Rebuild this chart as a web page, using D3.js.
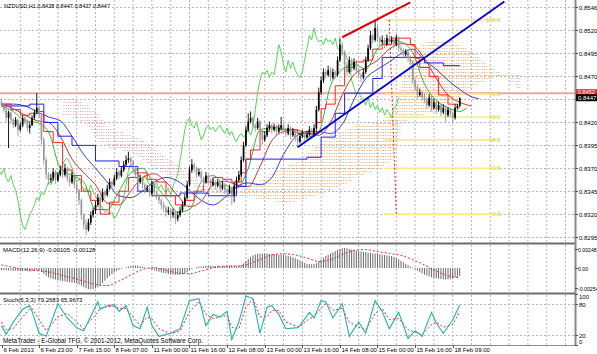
<!DOCTYPE html>
<html><head><meta charset="utf-8">
<script src="https://cdn.jsdelivr.net/npm/d3@7"></script>
<style>body{margin:0;background:#fff}svg{display:block}text{font-family:"Liberation Sans",Arial,sans-serif}</style>
</head><body><svg id="c" width="597" height="354"></svg>
<script>
// ---------------- DATA ----------------
const titleText = "NZDUSD,H1  0.8438 0.8447 0.8437 0.8447";
const macdTitle = "MACD(12,26,9) -0.00105 -0.00128";
const stochTitle = "Stoch(5,3,3) 79.2683 65.9673";
const copyrightText = "MetaTrader - E-Global TFG, \u00a9 2001-2012, MetaQuotes Software Corp.";
const timeLabels = ["6 Feb 2013","6 Feb 23:00","7 Feb 15:00","8 Feb 07:00","11 Feb 00:00","11 Feb 16:00","12 Feb 08:00","13 Feb 00:00","13 Feb 16:00","14 Feb 08:00","15 Feb 00:00","15 Feb 16:00","18 Feb 09:00"];
const timeLabelBars = [0,16,32,48,64,80,96,112,128,144,160,176,192];
const priceTickValues = [0.8546,0.85209,0.84958,0.84707,0.84456,0.84205,0.83954,0.83703,0.83452,0.83201,0.8295];
const priceTickLabels = ["0.8546","0.8520","0.8495","0.8470","","0.8420","0.8395","0.8370","0.8345","0.8320","0.8295"];
const macdTickValues = [0.00248,0,-0.00254];
const macdTickLabels = ["0.00248","0.00","-0.00254"];
const stochTickValues = [100,80,20,0];
const stochLevels = [80,20];

// OHLC in pips (price * 10000), one per hourly bar
const candles = [
[8443,8446,8437,8439],[8439,8441,8431,8434],[8434,8436,8420,8425],[8425,8433,8392,8431],[8431,8432,8418,8423],
[8423,8425,8414,8417],[8417,8426,8415,8423],[8423,8424,8405,8412],[8412,8420,8410,8417],[8417,8428,8415,8425],
[8425,8427,8418,8421],[8421,8423,8410,8414],[8414,8420,8408,8417],[8417,8428,8416,8425],[8425,8434,8423,8431],
[8431,8452,8429,8436],[8436,8438,8424,8428],[8428,8430,8396,8401],[8401,8404,8374,8379],[8379,8382,8358,8363],
[8363,8366,8352,8357],[8357,8364,8354,8359],[8359,8370,8356,8366],[8366,8368,8353,8357],[8357,8366,8355,8363],
[8363,8373,8361,8368],[8368,8370,8359,8363],[8363,8375,8361,8370],[8370,8372,8355,8359],[8359,8362,8350,8355],
[8355,8366,8353,8362],[8362,8364,8348,8352],[8352,8355,8342,8346],[8346,8348,8330,8335],[8335,8337,8314,8319],
[8319,8321,8303,8308],[8308,8314,8297,8303],[8303,8315,8301,8311],[8311,8323,8308,8319],[8319,8327,8316,8324],
[8324,8334,8320,8330],[8330,8342,8328,8338],[8338,8340,8330,8335],[8335,8348,8333,8344],[8344,8346,8337,8341],
[8341,8352,8339,8348],[8348,8359,8346,8355],[8355,8357,8348,8352],[8352,8363,8350,8359],[8359,8370,8357,8366],
[8366,8368,8358,8362],[8362,8372,8360,8368],[8368,8378,8366,8374],[8374,8384,8372,8379],[8379,8388,8376,8381],
[8381,8383,8373,8377],[8377,8379,8366,8370],[8370,8372,8359,8363],[8363,8365,8351,8355],[8355,8363,8353,8359],
[8359,8361,8348,8352],[8352,8354,8342,8346],[8346,8352,8344,8348],[8348,8350,8339,8343],[8343,8356,8341,8352],
[8352,8354,8340,8344],[8344,8346,8336,8340],[8340,8342,8331,8335],[8335,8337,8325,8330],[8330,8333,8322,8327],
[8327,8329,8317,8322],[8322,8328,8319,8324],[8324,8326,8314,8319],[8319,8326,8316,8322],[8322,8324,8309,8315],
[8315,8323,8312,8319],[8319,8328,8317,8324],[8324,8334,8322,8330],[8330,8342,8328,8338],[8338,8356,8336,8352],
[8352,8372,8350,8368],[8368,8380,8365,8374],[8374,8376,8366,8370],[8370,8372,8359,8363],[8363,8370,8361,8366],
[8366,8368,8355,8359],[8359,8361,8351,8355],[8355,8366,8353,8362],[8362,8364,8353,8357],[8357,8359,8348,8352],
[8352,8359,8350,8355],[8355,8357,8347,8351],[8351,8358,8349,8354],[8354,8356,8344,8348],[8348,8356,8346,8352],
[8352,8354,8342,8346],[8346,8348,8338,8344],[8344,8352,8342,8348],[8348,8350,8330,8341],[8341,8355,8333,8351],
[8351,8361,8349,8357],[8357,8367,8355,8363],[8363,8383,8361,8379],[8379,8399,8377,8395],[8395,8416,8393,8412],
[8412,8430,8410,8421],[8421,8432,8419,8425],[8425,8427,8413,8417],[8417,8419,8410,8414],[8414,8425,8412,8421],
[8421,8423,8406,8410],[8410,8412,8396,8401],[8401,8410,8399,8406],[8406,8418,8404,8414],[8414,8421,8412,8417],
[8417,8419,8408,8412],[8412,8419,8410,8415],[8415,8417,8406,8410],[8410,8418,8408,8414],[8414,8426,8412,8417],
[8417,8419,8408,8412],[8412,8414,8404,8408],[8408,8418,8406,8414],[8414,8416,8402,8406],[8406,8414,8404,8410],
[8410,8412,8399,8403],[8403,8405,8393,8399],[8399,8409,8397,8405],[8405,8412,8403,8408],[8408,8410,8400,8404],
[8404,8411,8402,8407],[8407,8416,8405,8412],[8412,8414,8402,8406],[8406,8418,8404,8414],[8414,8438,8412,8434],
[8434,8458,8432,8453],[8453,8470,8450,8466],[8466,8479,8463,8475],[8475,8478,8468,8472],[8472,8482,8470,8477],
[8477,8480,8465,8469],[8469,8479,8467,8475],[8475,8477,8468,8472],[8472,8492,8470,8488],[8488,8512,8486,8505],
[8505,8508,8493,8497],[8497,8499,8479,8483],[8483,8486,8471,8475],[8475,8492,8473,8488],[8488,8490,8475,8479],
[8479,8490,8477,8486],[8486,8488,8473,8477],[8477,8480,8468,8472],[8472,8474,8464,8469],[8469,8479,8467,8475],
[8475,8492,8473,8488],[8488,8505,8486,8501],[8501,8520,8499,8515],[8515,8518,8506,8510],[8510,8532,8508,8523],
[8523,8526,8508,8512],[8512,8514,8503,8508],[8508,8515,8506,8510],[8510,8512,8501,8505],[8505,8516,8503,8512],
[8512,8514,8504,8508],[8508,8514,8506,8510],[8510,8512,8501,8505],[8505,8516,8503,8512],[8512,8514,8497,8501],
[8501,8504,8495,8499],[8499,8501,8490,8494],[8494,8500,8492,8497],[8497,8499,8486,8490],[8490,8493,8482,8486],
[8486,8488,8462,8466],[8466,8469,8454,8458],[8458,8461,8446,8450],[8450,8457,8448,8453],[8453,8455,8443,8447],
[8447,8452,8441,8445],[8445,8447,8435,8439],[8439,8451,8437,8447],[8447,8449,8432,8436],[8436,8446,8434,8442],
[8442,8444,8429,8434],[8434,8443,8432,8439],[8439,8441,8427,8431],[8431,8440,8429,8436],[8436,8438,8420,8428],
[8428,8437,8426,8434],[8434,8436,8426,8430],[8430,8432,8419,8425],[8425,8440,8423,8436],[8436,8440,8434,8438],
[8438,8447,8437,8447]
];

// Ichimoku (pips), [bar, value]
const tenkanData = [[0,8440],[4,8434],[8,8428],[12,8430],[16,8432],[18,8410],[22,8398],[26,8368],[30,8362],[34,8345],[38,8335],[42,8320],[46,8333],[50,8345],[54,8360],[58,8365],[62,8358],[66,8355],[70,8340],[74,8330],[78,8335],[82,8345],[86,8355],[90,8360],[94,8358],[98,8355],[102,8365],[104,8380],[106,8390],[110,8410],[114,8415],[118,8412],[122,8412],[126,8408],[130,8408],[134,8420],[136,8435],[138,8440],[142,8460],[146,8480],[150,8486],[154,8488],[158,8500],[162,8505],[166,8512],[170,8512],[174,8505],[176,8490],[178,8480],[182,8470],[186,8450],[190,8440],[194,8436],[195,8436]];
const kijunData = [[0,8438],[12,8440],[18,8420],[24,8405],[30,8395],[40,8378],[50,8372],[58,8345],[64,8340],[76,8343],[88,8340],[100,8350],[104,8380],[130,8382],[136,8404],[142,8430],[146,8452],[158,8468],[162,8491],[176,8491],[180,8485],[188,8482],[195,8482]];
const cloudBars = [26,31,36,41,46,51,56,61,66,71,76,81,86,91,96,101,106,111,116,121,126,131,136,141,146,151,156,161,166,171,176,181,186,191,196,201,206,211,216,221];
const spanA = [8428,8425,8418,8400,8392,8390,8386,8378,8368,8362,8360,8352,8345,8342,8340,8345,8352,8358,8366,8372,8378,8388,8398,8408,8412,8416,8418,8420,8430,8470,8500,8508,8510,8508,8503,8497,8485,8475,8465,8455];
const spanB = [8446,8446,8440,8430,8414,8410,8405,8400,8390,8380,8372,8362,8352,8348,8345,8340,8338,8336,8334,8332,8334,8338,8342,8348,8352,8360,8365,8370,8378,8420,8425,8430,8432,8440,8450,8460,8465,8470,8472,8474];
const chikouShift = 26;

// Alligator lines (pips), [bar, value]
const jawData = [[0,8440],[5,8440],[10,8438],[15,8432],[20,8426],[25,8422],[30,8405],[35,8385],[40,8370],[45,8355],[50,8340],[55,8338],[60,8345],[65,8355],[70,8360],[75,8356],[80,8346],[85,8335],[90,8330],[95,8338],[100,8350],[105,8354],[110,8352],[115,8360],[120,8385],[125,8404],[130,8410],[135,8410],[140,8408],[145,8418],[150,8445],[155,8468],[160,8478],[165,8486],[170,8495],[175,8500],[180,8488],[185,8478],[190,8466],[195,8456],[200,8448],[203,8446]];
const teethData = [[0,8440],[5,8435],[10,8428],[15,8422],[20,8420],[25,8405],[30,8380],[35,8365],[40,8352],[45,8332],[50,8330],[55,8345],[60,8360],[65,8364],[70,8355],[75,8340],[80,8328],[85,8334],[90,8352],[95,8356],[100,8352],[105,8350],[110,8372],[115,8400],[120,8410],[125,8412],[130,8408],[135,8406],[140,8420],[145,8450],[150,8472],[155,8480],[160,8488],[165,8500],[170,8506],[175,8504],[180,8490],[185,8468],[190,8450],[195,8442],[200,8438]];
const lipsData = [[0,8438],[5,8432],[10,8422],[15,8420],[20,8410],[25,8370],[30,8362],[35,8355],[40,8325],[45,8325],[50,8345],[55,8365],[60,8370],[65,8352],[70,8338],[75,8322],[80,8325],[85,8355],[90,8362],[95,8352],[100,8348],[105,8370],[110,8412],[115,8414],[120,8413],[125,8410],[130,8404],[135,8410],[140,8460],[145,8478],[150,8484],[155,8478],[160,8500],[165,8510],[170,8508],[175,8496],[180,8462],[185,8444],[190,8436],[195,8432],[198,8436]];

// Trend lines [bar, pips]
const blueTrend = [[126,8393],[214,8552]];
const redTrend = [[145,8513],[174,8551]];
const horizLine = 8452;
// Fibonacci
const fibLow = 8320, fibHigh = 8532;
const fibBars = [163, 212];
const fibAnchor = [[165,8532],[168,8320]];
const fibLevels = [0, 23.6, 38.2, 50.0, 61.8, 100.0];

// MACD (1e-5 units)
const macdHist = [-25,-28,-32,-30,-35,-38,-36,-40,-42,-40,-38,-42,-45,-40,-35,-30,-32,
-50,-75,-100,-120,-135,-145,-150,-160,-165,-170,-175,-180,-185,-190,-195,-205,-215,-230,-250,-265,-275,-280,-275,-265,-250,
-225,-195,-165,-135,-105,-80,-60,-40,-25,-10,0,10,
20,25,30,32,30,25,18,10,
0,-10,-20,-30,-40,-50,-58,-65,-72,-78,-82,-85,-88,-90,-88,-82,-72,-55,-35,
-15,0,10,18,22,25,28,30,30,28,26,25,24,25,26,28,30,28,25,22,28,40,
60,90,120,145,165,178,185,188,190,190,188,185,182,180,178,175,172,170,165,158,150,140,128,115,100,
80,65,55,50,48,52,62,
85,110,135,155,175,190,205,220,235,248,258,262,
258,250,240,232,225,220,215,212,208,200,195,190,188,185,180,175,170,165,160,155,145,130,115,95,
75,55,40,20,5,
-15,-35,-55,-70,-85,-98,-110,-120,-128,-135,-140,-145,-148,-150,-148,-143,-135,-125,-115,-105];
const macdSignal = [[0,40],[5,10],[10,-20],[15,-35],[20,-50],[25,-90],[30,-130],[35,-170],[40,-215],[45,-230],[50,-170],[55,-90],[60,-20],[65,5],[70,-30],[75,-65],[80,-75],[85,-40],[90,5],[95,25],[100,27],[105,50],[110,110],[115,170],[120,185],[125,170],[130,130],[135,85],[140,110],[145,175],[150,230],[155,240],[160,215],[165,190],[170,165],[175,110],[180,40],[185,-40],[190,-100],[195,-128]];

// Stochastic
const stochBars = [0,2,5,9,12,13,16,19,24,28,32,35,41,42,45,48,50,53,56,59,62,64,67,72,76,80,84,87,90,93,96,98,101,104,107,110,113,115,118,121,126,127,131,133,136,138,141,145,148,152,155,159,162,165,169,173,176,179,183,185,188,192,195];
const stochK = [38,21,45,70,77,66,23,17,81,53,34,28,85,70,77,79,66,77,38,32,74,38,17,23,32,87,91,38,60,55,66,11,45,96,91,23,74,77,60,32,34,38,64,53,87,85,53,81,17,45,23,87,66,32,64,13,28,17,64,43,23,49,79];
const stochD = [45,30,32,55,70,72,50,28,55,62,45,32,65,72,75,76,72,72,55,38,55,52,32,22,28,65,85,60,52,55,58,35,32,75,90,55,55,68,68,45,36,36,52,55,72,82,68,72,45,35,30,62,72,50,52,30,25,20,40,45,35,40,66];

// ---------------- DRAW ----------------
const svg = d3.select("#c");
const W = 597, H = 354, R = 575;
const P = v => v / 10000;
const x = d3.scaleLinear().domain([0, 244]).range([1.5, 1.5 + 244 * 2.35]);
const y = d3.scaleLinear().domain([0.8295, 0.8546]).range([237, 7]);
const ym = d3.scaleLinear().domain([-0.00254, 0.00248]).range([287.5, 249]);
const ys = d3.scaleLinear().domain([0, 100]).range([345, 294]);

svg.append("rect").attr("width", W).attr("height", H).attr("fill", "#fff");
const defs = svg.append("defs");
function clip(id, y0, y1) {
  defs.append("clipPath").attr("id", id).append("rect").attr("x", 0).attr("y", y0).attr("width", R).attr("height", y1 - y0);
}
clip("cm", 0, 242); clip("cd", 245, 292); clip("cs", 295, 345);
function dots(id, color) {
  const p = defs.append("pattern").attr("id", id).attr("patternUnits", "userSpaceOnUse").attr("width", 2.35).attr("height", 3);
  p.append("rect").attr("x", 0).attr("y", 0).attr("width", 1).attr("height", 1).attr("fill", color);
}
dots("pSandy", "#f0a868"); dots("pThistle", "#d9a6ac");

const gridColor = "#b8b8b8";
const gridG = svg.append("g");
const vBars = d3.range(8, 245, 8);
[[0, 242], [245, 292], [295, 345]].forEach(([a, b]) => {
  gridG.selectAll(null).data(vBars).enter().append("line")
    .attr("x1", d => x(d)).attr("x2", d => x(d)).attr("y1", a).attr("y2", b)
    .attr("stroke", gridColor).attr("stroke-width", 1).attr("stroke-dasharray", "2,2");
});
gridG.selectAll(null).data(priceTickValues).enter().append("line")
  .attr("x1", 0).attr("x2", R).attr("y1", d => Math.round(y(d)) + 0.5).attr("y2", d => Math.round(y(d)) + 0.5)
  .attr("stroke", gridColor).attr("stroke-dasharray", "2,2");
gridG.selectAll(null).data(stochLevels).enter().append("line")
  .attr("x1", 0).attr("x2", R).attr("y1", d => Math.round(ys(d)) + 0.5).attr("y2", d => Math.round(ys(d)) + 0.5)
  .attr("stroke", gridColor).attr("stroke-dasharray", "2,2");

// ---- main panel ----
const main = svg.append("g").attr("clip-path", "url(#cm)");
const cloud = cloudBars.map((b, i) => ({ b, a: P(spanA[i]), s: P(spanB[i]) }));
main.append("path").datum(cloud).attr("fill", "url(#pSandy)")
  .attr("d", d3.area().x(d => x(d.b)).y0(d => y(d.s)).y1(d => y(Math.max(d.a, d.s))));
main.append("path").datum(cloud).attr("fill", "url(#pThistle)")
  .attr("d", d3.area().x(d => x(d.b)).y0(d => y(d.a)).y1(d => y(Math.max(d.a, d.s))));

main.append("line").attr("x1", 0).attr("x2", R).attr("y1", y(P(horizLine))).attr("y2", y(P(horizLine)))
  .attr("stroke", "#eea4a4").attr("stroke-width", 2);

const fibG = main.append("g");
fibLevels.forEach(l => {
  const pv = P(fibLow + (fibHigh - fibLow) * l / 100);
  fibG.append("line").attr("x1", x(fibBars[0])).attr("x2", x(fibBars[1])).attr("y1", y(pv)).attr("y2", y(pv))
    .attr("stroke", "#f5ec84").attr("stroke-width", 1.6);
  fibG.append("text").attr("x", x(fibBars[1]) + 1).attr("y", y(pv) + 2).attr("text-anchor", "end")
    .attr("font-size", 6).attr("fill", "#e0d250").text(l.toFixed(1));
});
fibG.append("line").attr("x1", x(fibAnchor[0][0])).attr("y1", y(P(fibAnchor[0][1])))
  .attr("x2", x(fibAnchor[1][0])).attr("y2", y(P(fibAnchor[1][1])))
  .attr("stroke", "#e02020").attr("stroke-dasharray", "2,2").attr("stroke-width", 1);

const closes = candles.map(c => c[3]);
main.append("path").datum(closes).attr("fill", "none").attr("stroke", "#55d655").attr("stroke-width", 1)
  .attr("d", d3.line().x((d, i) => x(i - chikouShift)).y(d => y(P(d))));

const smooth = d3.line().x(d => x(d[0])).y(d => y(P(d[1]))).curve(d3.curveMonotoneX);
const step = d3.line().x(d => x(d[0])).y(d => y(P(d[1]))).curve(d3.curveStepAfter);
main.append("path").datum(jawData).attr("fill", "none").attr("stroke", "#3a3ad0").attr("stroke-width", 1).attr("d", smooth);
main.append("path").datum(teethData).attr("fill", "none").attr("stroke", "#d03030").attr("stroke-width", 1).attr("d", smooth);
main.append("path").datum(lipsData).attr("fill", "none").attr("stroke", "#2fb82f").attr("stroke-width", 1).attr("d", smooth);
main.append("path").datum(kijunData).attr("fill", "none").attr("stroke", "#2020ff").attr("stroke-width", 1).attr("d", step);
main.append("path").datum(tenkanData).attr("fill", "none").attr("stroke", "#ff2020").attr("stroke-width", 1).attr("d", step);

const cg = main.append("g");
candles.forEach((c, i) => {
  const [o, h, l, cl] = c.map(P);
  const up = cl >= o;
  const col = up ? "#000" : "#9a9a9a";
  cg.append("line").attr("x1", x(i)).attr("x2", x(i)).attr("y1", y(h)).attr("y2", y(l)).attr("stroke", col).attr("stroke-width", 0.9);
  const top = y(Math.max(o, cl)), bot = y(Math.min(o, cl));
  cg.append("rect").attr("x", x(i) - 0.85).attr("width", 1.7).attr("y", top).attr("height", Math.max(0.8, bot - top)).attr("fill", col);
});

main.append("line").attr("x1", x(blueTrend[0][0])).attr("y1", y(P(blueTrend[0][1])))
  .attr("x2", x(blueTrend[1][0])).attr("y2", y(P(blueTrend[1][1]))).attr("stroke", "#0a0ad0").attr("stroke-width", 2);
main.append("line").attr("x1", x(redTrend[0][0])).attr("y1", y(P(redTrend[0][1])))
  .attr("x2", x(redTrend[1][0])).attr("y2", y(P(redTrend[1][1]))).attr("stroke", "#e00000").attr("stroke-width", 2);

// ---- MACD ----
const md = svg.append("g").attr("clip-path", "url(#cd)");
md.selectAll(null).data(macdHist).enter().append("line")
  .attr("x1", (d, i) => x(i)).attr("x2", (d, i) => x(i))
  .attr("y1", ym(0)).attr("y2", d => ym(d / 100000))
  .attr("stroke", "#5a5a5a").attr("stroke-width", 0.9);
md.append("path").datum(macdSignal).attr("fill", "none").attr("stroke", "#e03030").attr("stroke-width", 1)
  .attr("stroke-dasharray", "2,2")
  .attr("d", d3.line().x(d => x(d[0])).y(d => ym(d[1] / 100000)).curve(d3.curveMonotoneX));

// ---- Stoch ----
const st = svg.append("g").attr("clip-path", "url(#cs)");
st.append("path").datum(stochBars.map((b, i) => [b, stochD[i]])).attr("fill", "none").attr("stroke", "#e03030")
  .attr("stroke-width", 1).attr("stroke-dasharray", "2,2")
  .attr("d", d3.line().x(d => x(d[0])).y(d => ys(d[1])));
st.append("path").datum(stochBars.map((b, i) => [b, stochK[i]])).attr("fill", "none").attr("stroke", "#20b2aa")
  .attr("stroke-width", 1.1)
  .attr("d", d3.line().x(d => x(d[0])).y(d => ys(d[1])));

// ---- frames ----
const fr = svg.append("g");
fr.append("line").attr("x1", 0).attr("x2", R).attr("y1", 243.5).attr("y2", 243.5).attr("stroke", "#6e6e6e").attr("stroke-width", 2);
fr.append("line").attr("x1", 0).attr("x2", R).attr("y1", 293.5).attr("y2", 293.5).attr("stroke", "#6e6e6e").attr("stroke-width", 2);
fr.append("line").attr("x1", 0).attr("x2", R + 1).attr("y1", 345.5).attr("y2", 345.5).attr("stroke", "#8a8a8a").attr("stroke-width", 1);
fr.append("line").attr("x1", R + 0.5).attr("x2", R + 0.5).attr("y1", 0).attr("y2", 346).attr("stroke", "#8a8a8a").attr("stroke-width", 2);

// ---- axis labels ----
const ax = svg.append("g").attr("font-size", 6).attr("fill", "#000");
priceTickValues.forEach((v, i) => {
  const yy = Math.round(y(v)) + 0.5;
  ax.append("line").attr("x1", R).attr("x2", R + 3).attr("y1", yy).attr("y2", yy).attr("stroke", "#555");
  if (priceTickLabels[i]) ax.append("text").attr("x", 579).attr("y", yy + 2.2).text(priceTickLabels[i]);
});
macdTickValues.forEach((v, i) => {
  const yy = Math.round(ym(v)) + 0.5;
  ax.append("line").attr("x1", R).attr("x2", R + 3).attr("y1", yy).attr("y2", yy).attr("stroke", "#555");
  ax.append("text").attr("x", 578).attr("y", yy + 2).attr("font-size", 5.2).text(macdTickLabels[i]);
});
stochTickValues.forEach(v => {
  const yy = Math.round(ys(v)) + 0.5;
  ax.append("line").attr("x1", R).attr("x2", R + 3).attr("y1", yy).attr("y2", yy).attr("stroke", "#555");
  const ty = v === 100 ? yy + 4 : v === 0 ? yy - 2 : yy + 2.2;
  ax.append("text").attr("x", 579).attr("y", ty).text(v);
});
const hy = y(P(horizLine));
ax.append("rect").attr("x", 576).attr("y", hy - 4).attr("width", 21).attr("height", 6).attr("fill", "#e83030");
ax.append("text").attr("x", 578).attr("y", hy + 1).attr("fill", "#fff").attr("font-size", 5.5).text((horizLine / 10000).toFixed(4));
const ly = y(P(closes[closes.length - 1]));
ax.append("rect").attr("x", 576).attr("y", ly - 3.5).attr("width", 21).attr("height", 7).attr("fill", "#000");
ax.append("text").attr("x", 578).attr("y", ly + 2).attr("fill", "#fff").attr("font-size", 6).text((closes[closes.length - 1] / 10000).toFixed(4));

timeLabelBars.forEach((b, i) => {
  const xx = Math.round(x(b)) + 0.5;
  ax.append("line").attr("x1", xx).attr("x2", xx).attr("y1", 345).attr("y2", 348).attr("stroke", "#555");
  ax.append("text").attr("x", xx + 1).attr("y", 352).text(timeLabels[i]);
});

ax.append("text").attr("x", 4).attr("y", 8).attr("textLength", 106).attr("lengthAdjust", "spacingAndGlyphs").text(titleText);
ax.append("text").attr("x", 3).attr("y", 252).text(macdTitle);
ax.append("text").attr("x", 3).attr("y", 302).text(stochTitle);
ax.append("text").attr("x", 3).attr("y", 343).attr("font-size", 7.5).attr("textLength", 200).attr("lengthAdjust", "spacingAndGlyphs").text(copyrightText);
</script></body></html>
